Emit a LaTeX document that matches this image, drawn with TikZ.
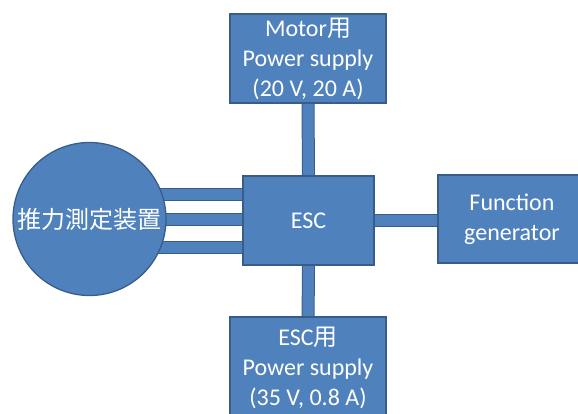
\documentclass[tikz,border=0pt]{standalone}
\usepackage{fontspec}
\setmainfont{Carlito}
\newfontfamily\jpfont{Noto Sans CJK JP}
\usetikzlibrary{positioning, backgrounds}
\definecolor{boxblue}{HTML}{4F81BD}
\definecolor{edgeblue}{HTML}{385D8A}

\begin{document}
\begin{tikzpicture}[
    x=1pt, y=-1pt,
    block/.style={rectangle, draw=edgeblue, fill=boxblue, line width=1.3pt,
                  text=white, align=center, inner sep=0pt,
                  font=\fontsize{24}{30}\selectfont},
    bar/.style={draw=edgeblue, line width=1pt,
                double=boxblue, double distance=11pt}
]
  \path[use as bounding box, clip] (0,0) rectangle (578,413);

  \node[block, minimum width=156pt, minimum height=89pt] (motor) at (308,58.5)
       {Motor{\jpfont 用}\\Power supply\\(20 V, 20 A)};
  \node[block, minimum width=131pt, minimum height=89pt] (esc) at (308.5,220.5) {ESC};
  \node[block, minimum width=156pt, minimum height=102pt] (escps) at (308,368)
       {ESC{\jpfont 用}\\Power supply\\(35 V, 0.8 A)};
  \node[block, minimum width=148pt, minimum height=88pt] (fgen) at (512,219)
       {Function\\generator};
  \node[block, circle, minimum size=153pt] (thrust) at (89.5,219)
       {\jpfont 推力測定装置};

  \begin{scope}[on background layer]
    \draw[bar] (motor) -- (esc);
    \draw[bar] (esc) -- (escps);
    \draw[bar] (esc.east) -- (esc.east -| fgen.west);
    \foreach \dy in {26.5, 1.5, -27}
      \draw[bar] ([yshift=\dy pt]esc.west) -- ([yshift=\dy pt]esc.west -| thrust.center);
  \end{scope}
\end{tikzpicture}
\end{document}
